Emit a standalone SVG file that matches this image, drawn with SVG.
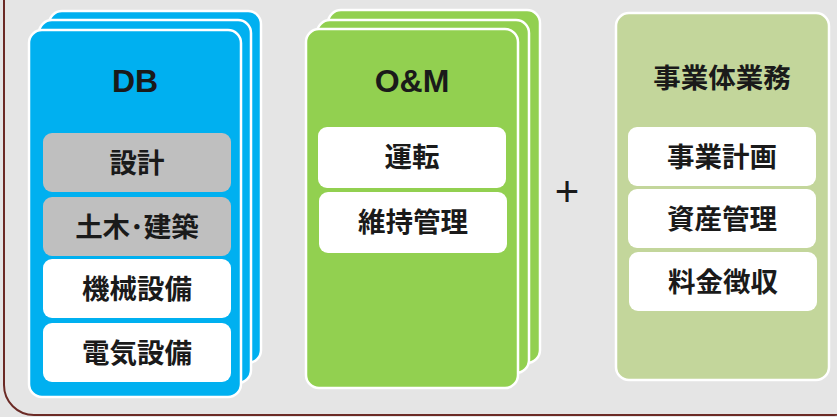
<svg xmlns="http://www.w3.org/2000/svg" width="837" height="417" viewBox="0 0 837 417">
<style>
.card{stroke:#fff;stroke-width:2.5}
.db{fill:#00b0f0}
.om{fill:#92d050}
.biz{fill:#c3d69b}
.item{fill:#fff}
.gray{fill:#bfbfbf}
.t{font-family:"Noto Sans CJK JP","Noto Sans",sans-serif;font-weight:bold;font-size:27.5px;fill:#1a1a1a;text-anchor:middle}
.h{font-family:"Liberation Sans",Arial,sans-serif;font-weight:bold;font-size:32px;fill:#1a1a1a;text-anchor:middle}
</style>
<rect x="0" y="0" width="837" height="417" fill="#e5e5e5"/>
<rect x="4" y="-40" width="860" height="455" rx="30" fill="none" stroke="#6b2a25" stroke-width="2"/>
<g id="db">
<rect class="card db" x="49" y="11" width="212" height="352" rx="13"/>
<rect class="card db" x="39" y="20" width="212" height="363" rx="13"/>
<rect class="card db" x="29" y="30" width="212" height="367" rx="13"/>
<text class="h" x="135" y="92">DB</text>
<rect class="gray" x="43" y="133" width="188" height="59" rx="9"/>
<text class="t" x="137" y="173">設計</text>
<rect class="gray" x="43" y="197" width="188" height="59" rx="9"/>
<text class="t" x="137" y="237">土木･建築</text>
<rect class="item" x="43" y="259" width="188" height="59" rx="9"/>
<text class="t" x="137" y="299">機械設備</text>
<rect class="item" x="43" y="323" width="188" height="59" rx="9"/>
<text class="t" x="137" y="363">電気設備</text>
</g>
<g id="om">
<rect class="card om" x="328" y="10" width="212" height="353" rx="13"/>
<rect class="card om" x="317" y="20" width="212" height="353" rx="13"/>
<rect class="card om" x="306" y="29" width="212" height="359" rx="13"/>
<text class="h" x="412" y="92">O&amp;M</text>
<rect class="item" x="318" y="127" width="188" height="61" rx="9"/>
<text class="t" x="412" y="167">運転</text>
<rect class="item" x="319" y="192" width="188" height="61" rx="9"/>
<text class="t" x="413" y="232">維持管理</text>
</g>
<g id="plus">
<text x="567" y="206" style="font-family:'Liberation Sans',Arial,sans-serif;font-size:42px;fill:#1a1a1a;text-anchor:middle">+</text>
</g>
<g id="biz">
<rect class="card biz" x="616" y="13" width="213" height="367" rx="13"/>
<text class="t" x="722" y="88">事業体業務</text>
<rect class="item" x="628" y="127" width="188" height="59" rx="9"/>
<text class="t" x="722" y="167">事業計画</text>
<rect class="item" x="628" y="189" width="188" height="59" rx="9"/>
<text class="t" x="722" y="229">資産管理</text>
<rect class="item" x="629" y="252" width="188" height="59" rx="9"/>
<text class="t" x="723" y="292">料金徴収</text>
</g>
<g id="connectors"/>
</svg>
